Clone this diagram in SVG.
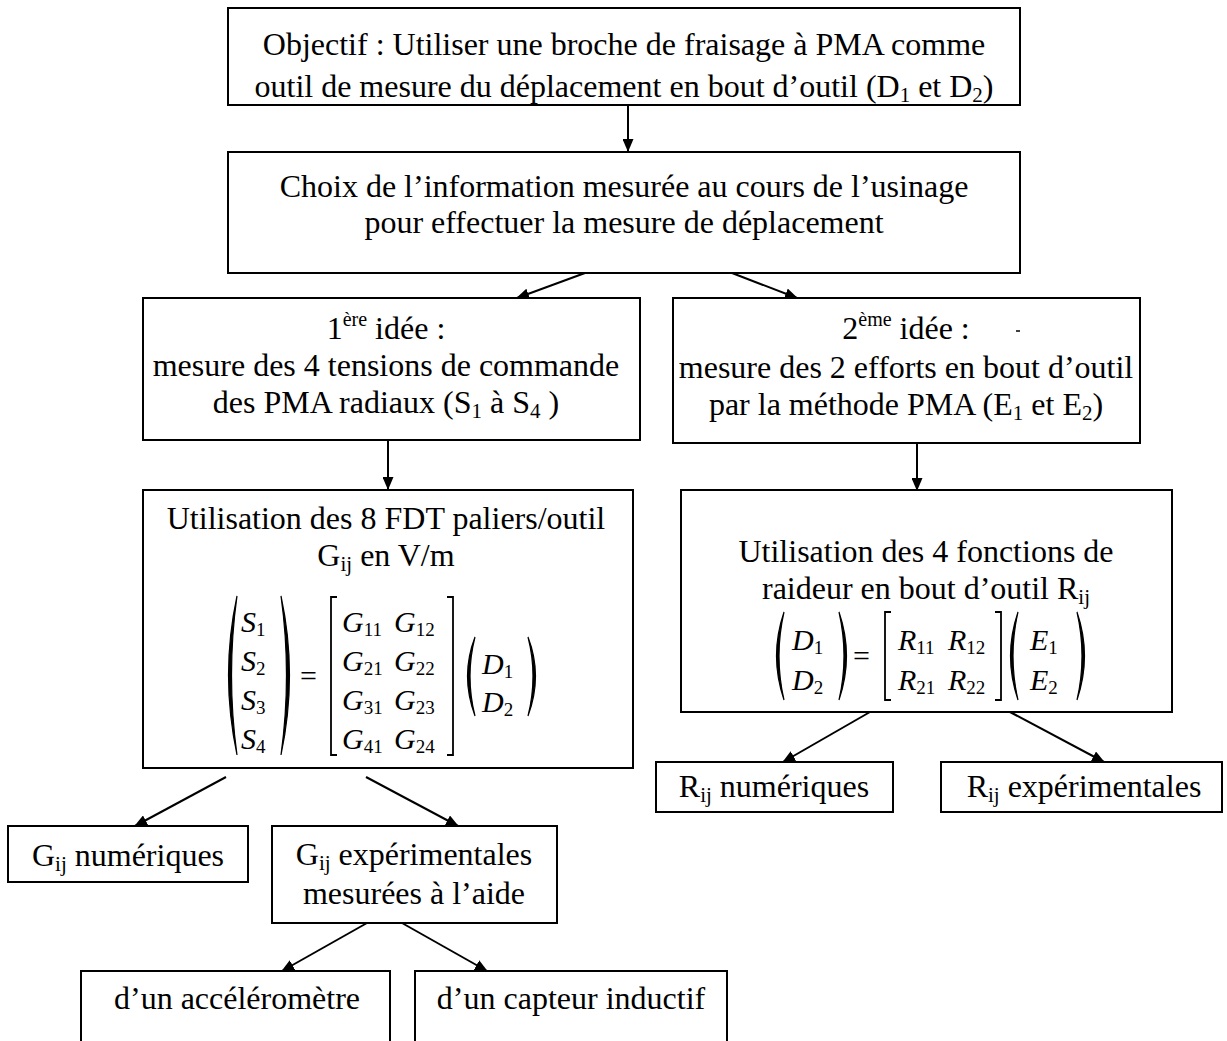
<svg xmlns="http://www.w3.org/2000/svg" width="1227" height="1041" viewBox="0 0 1227 1041">
<style>
.box{fill:#fff;stroke:#000;stroke-width:2}
.t{font-family:"Liberation Serif","Times New Roman",serif;font-size:32px;fill:#000;text-anchor:middle}
.m{font-family:"Liberation Serif","Times New Roman",serif;font-size:30px;font-style:italic;fill:#000}
.n{font-style:normal}
.c{stroke:#000;stroke-width:2;fill:none}
.d{stroke:#000;stroke-width:1.8;fill:none}
.p{fill:#000;stroke:#000;stroke-width:1.2}
</style>
<defs>
<marker id="ah" markerWidth="13" markerHeight="11" refX="12" refY="5.5" orient="auto" markerUnits="userSpaceOnUse">
<path d="M0,0 L13,5.5 L0,11 z" fill="#000"/>
</marker>
</defs>
<rect width="1227" height="1041" fill="#fff"/>
<g id="connectors">
<line class="c" x1="628" y1="105" x2="628" y2="151" marker-end="url(#ah)"/>
<line class="c" x1="585" y1="273" x2="517" y2="298" marker-end="url(#ah)"/>
<line class="c" x1="732" y1="273" x2="797" y2="298" marker-end="url(#ah)"/>
<line class="c" x1="388" y1="440" x2="388" y2="489" marker-end="url(#ah)"/>
<line class="c" x1="917" y1="443" x2="917" y2="490" marker-end="url(#ah)"/>
<line class="c" x1="226" y1="777" x2="135" y2="826" marker-end="url(#ah)"/>
<line class="c" x1="366" y1="777" x2="458" y2="826" marker-end="url(#ah)"/>
<line class="c" x1="870" y1="712" x2="783" y2="762" marker-end="url(#ah)"/>
<line class="c" x1="1010" y1="712" x2="1104" y2="762" marker-end="url(#ah)"/>
<line class="c" x1="367" y1="923" x2="282" y2="971" marker-end="url(#ah)"/>
<line class="c" x1="402" y1="923" x2="487" y2="971" marker-end="url(#ah)"/>
</g>
<g id="objectif">
<rect class="box" x="228" y="8" width="792" height="97"/>
<text class="t" x="624" y="55">Objectif : Utiliser une broche de fraisage à PMA comme</text>
<text class="t" x="624" y="97">outil de mesure du déplacement en bout d’outil (D<tspan font-size="21" dy="5">1</tspan><tspan dy="-5"> et D</tspan><tspan font-size="21" dy="5">2</tspan><tspan dy="-5">)</tspan></text>
</g>
<g id="choix">
<rect class="box" x="228" y="152" width="792" height="121"/>
<text class="t" x="624" y="197">Choix de l’information mesurée au cours de l’usinage</text>
<text class="t" x="624" y="233">pour effectuer la mesure de déplacement</text>
</g>
<g id="idee1">
<rect class="box" x="143" y="298" width="497" height="142"/>
<text class="t" x="386" y="339">1<tspan font-size="20" dy="-13">ère</tspan><tspan dy="13"> idée :</tspan></text>
<text class="t" x="386" y="376">mesure des 4 tensions de commande</text>
<text class="t" x="386" y="413">des PMA radiaux (S<tspan font-size="21" dy="5">1</tspan><tspan dy="-5"> à S</tspan><tspan font-size="21" dy="5">4</tspan><tspan dy="-5"> )</tspan></text>
</g>
<g id="idee2">
<rect class="box" x="673" y="298" width="467" height="145"/>
<text class="t" x="906" y="339">2<tspan font-size="20" dy="-13">ème</tspan><tspan dy="13"> idée :</tspan></text>
<line x1="1016" y1="331" x2="1020" y2="331" stroke="#000" stroke-width="1.5"/>
<text class="t" x="906" y="378">mesure des 2 efforts en bout d’outil</text>
<text class="t" x="906" y="415">par la méthode PMA (E<tspan font-size="21" dy="5">1</tspan><tspan dy="-5"> et E</tspan><tspan font-size="21" dy="5">2</tspan><tspan dy="-5">)</tspan></text>
</g>
<g id="fdt">
<rect class="box" x="143" y="490" width="490" height="278"/>
<text class="t" x="386" y="529">Utilisation des 8 FDT paliers/outil</text>
<text class="t" x="386" y="566">G<tspan font-size="21" dy="5">ij</tspan><tspan dy="-5"> en V/m</tspan></text>
<path class="p" d="M237,596 Q220,675 237,755 Q226,675 237,596 Z"/>
<path class="p" d="M281,596 Q298,675 281,755 Q292,675 281,596 Z"/>
<text class="m" x="241" y="632">S<tspan font-size="19" dy="4" class="n">1</tspan></text>
<text class="m" x="241" y="671">S<tspan font-size="19" dy="4" class="n">2</tspan></text>
<text class="m" x="241" y="710">S<tspan font-size="19" dy="4" class="n">3</tspan></text>
<text class="m" x="241" y="749">S<tspan font-size="19" dy="4" class="n">4</tspan></text>
<text class="m n" x="300" y="686">=</text>
<path class="d" d="M337,597 H331 V755 H337"/>
<path class="d" d="M447,597 H453 V755 H447"/>
<text class="m" x="342" y="632">G<tspan font-size="19" dy="4" class="n">11</tspan></text>
<text class="m" x="394" y="632">G<tspan font-size="19" dy="4" class="n">12</tspan></text>
<text class="m" x="342" y="671">G<tspan font-size="19" dy="4" class="n">21</tspan></text>
<text class="m" x="394" y="671">G<tspan font-size="19" dy="4" class="n">22</tspan></text>
<text class="m" x="342" y="710">G<tspan font-size="19" dy="4" class="n">31</tspan></text>
<text class="m" x="394" y="710">G<tspan font-size="19" dy="4" class="n">23</tspan></text>
<text class="m" x="342" y="749">G<tspan font-size="19" dy="4" class="n">41</tspan></text>
<text class="m" x="394" y="749">G<tspan font-size="19" dy="4" class="n">24</tspan></text>
<path class="p" d="M475,637 Q460,676 475,716 Q465,676 475,637 Z"/>
<path class="p" d="M528,637 Q543,676 528,716 Q538,676 528,637 Z"/>
<text class="m" x="482" y="674">D<tspan font-size="19" dy="4" class="n">1</tspan></text>
<text class="m" x="482" y="712">D<tspan font-size="19" dy="4" class="n">2</tspan></text>
</g>
<g id="raideur">
<rect class="box" x="681" y="490" width="491" height="222"/>
<text class="t" x="926" y="562">Utilisation des 4 fonctions de</text>
<text class="t" x="926" y="599">raideur en bout d’outil R<tspan font-size="21" dy="5">ij</tspan></text>
<path class="p" d="M784,612 Q769,656 784,700 Q774,656 784,612 Z"/>
<path class="p" d="M839,612 Q854,656 839,700 Q849,656 839,612 Z"/>
<text class="m" x="792" y="650">D<tspan font-size="19" dy="4" class="n">1</tspan></text>
<text class="m" x="792" y="690">D<tspan font-size="19" dy="4" class="n">2</tspan></text>
<text class="m n" x="853" y="666">=</text>
<path class="d" d="M891,612 H885 V700 H891"/>
<path class="d" d="M995,612 H1001 V700 H995"/>
<text class="m" x="898" y="650">R<tspan font-size="19" dy="4" class="n">11</tspan></text>
<text class="m" x="948" y="650">R<tspan font-size="19" dy="4" class="n">12</tspan></text>
<text class="m" x="898" y="690">R<tspan font-size="19" dy="4" class="n">21</tspan></text>
<text class="m" x="948" y="690">R<tspan font-size="19" dy="4" class="n">22</tspan></text>
<path class="p" d="M1018,612 Q1003,656 1018,700 Q1008,656 1018,612 Z"/>
<path class="p" d="M1077,612 Q1092,656 1077,700 Q1087,656 1077,612 Z"/>
<text class="m" x="1030" y="650">E<tspan font-size="19" dy="4" class="n">1</tspan></text>
<text class="m" x="1030" y="690">E<tspan font-size="19" dy="4" class="n">2</tspan></text>
</g>
<g id="rij-num">
<rect class="box" x="656" y="762" width="237" height="50"/>
<text class="t" x="774" y="797">R<tspan font-size="21" dy="5">ij</tspan><tspan dy="-5"> numériques</tspan></text>
</g>
<g id="rij-exp">
<rect class="box" x="941" y="762" width="281" height="50"/>
<text class="t" x="1084" y="797">R<tspan font-size="21" dy="5">ij</tspan><tspan dy="-5"> expérimentales</tspan></text>
</g>
<g id="gij-num">
<rect class="box" x="8" y="826" width="240" height="56"/>
<text class="t" x="128" y="866">G<tspan font-size="21" dy="5">ij</tspan><tspan dy="-5"> numériques</tspan></text>
</g>
<g id="gij-exp">
<rect class="box" x="272" y="826" width="285" height="97"/>
<text class="t" x="414" y="865">G<tspan font-size="21" dy="5">ij</tspan><tspan dy="-5"> expérimentales</tspan></text>
<text class="t" x="414" y="904">mesurées à l’aide</text>
</g>
<g id="accelerometre">
<rect class="box" x="81" y="971" width="309" height="85"/>
<text class="t" x="237" y="1009">d’un accéléromètre</text>
</g>
<g id="capteur">
<rect class="box" x="415" y="971" width="312" height="85"/>
<text class="t" x="571" y="1009">d’un capteur inductif</text>
</g>
</svg>
